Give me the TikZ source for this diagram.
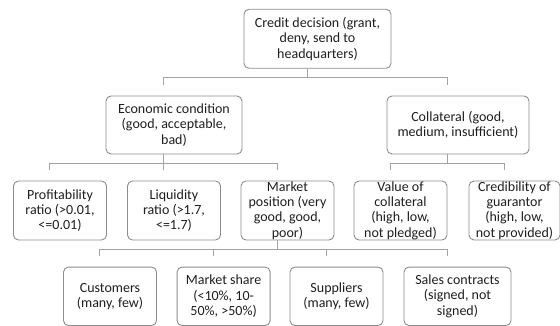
\documentclass[tikz,border=0pt]{standalone}
\usepackage{fontspec}
\setmainfont{Carlito}
\definecolor{boxline}{HTML}{8C8C8C}
\definecolor{linkline}{HTML}{A3A3A3}
\definecolor{boxtext}{HTML}{1E1E1E}
\begin{document}
\begin{tikzpicture}[x=1pt,y=-1pt,line cap=butt,line join=miter,
		box/.style={draw=boxline,line width=0.9pt,rounded corners=5pt,align=center,
			text=boxtext,font=\fontsize{14}{15.3}\selectfont,inner xsep=2pt,inner ysep=0pt,
			minimum width=93pt,minimum height=59pt},
		link/.style={draw=linkline,line width=0.9pt}]
		\useasboundingbox (0,0) rectangle (560,326);
		\node (credit) at (317.5,38.8) [box,minimum width=147pt]{Credit decision (grant,\\deny, send to\\headquarters)};
		\node (econ) at (174,125) [box,minimum width=136pt,minimum height=58pt]{Economic condition\\(good, acceptable,\\bad)};
		\node (coll) at (458,125) [box,minimum width=142pt,minimum height=58pt]{Collateral (good,\\medium, insufficient)};
		\node (profit) at (60,210.5) [box]{Profitability\\ratio (>0.01,\\<=0.01)};
		\node (liquid) at (174,210.5) [box]{Liquidity\\ratio (>1.7,\\<=1.7)};
		\node (market) at (287.5,210.5) [box]{Market\\position (very\\good, good,\\poor)};
		\node (value) at (400.5,210.5) [box]{Value of\\collateral\\(high, low,\\not pledged)};
		\node (cred) at (514.5,210.5) [box,minimum width=91pt]{Credibility of\\guarantor\\(high, low,\\not provided)};
		\node (cust) at (110,296.3) [box,minimum height=58.5pt]{Customers\\(many, few)};
		\node (share) at (223.6,296.3) [box,minimum height=58.5pt]{Market share\\(<10\%, 10-\\50\%, >50\%)};
		\node (supp) at (336.5,296.3) [box,minimum height=58.5pt]{Suppliers\\(many, few)};
		\node (sales) at (457.5,296.3) [box,minimum width=107pt,minimum height=58.5pt]{Sales contracts\\(signed, not\\signed)};
		% connectors sit 10pt left of the box centres
		\foreach \parent/\child in {credit/econ,credit/coll,econ/profit,econ/liquid,econ/market,coll/value,coll/cred,market/cust,market/share,market/supp,market/sales}
		\draw[link] ([xshift=-10.3pt]\parent.south) -- ++(0,9) -| ([xshift=-10.3pt,yshift=10.5pt]\child.north);
	\end{tikzpicture}
\end{document}
